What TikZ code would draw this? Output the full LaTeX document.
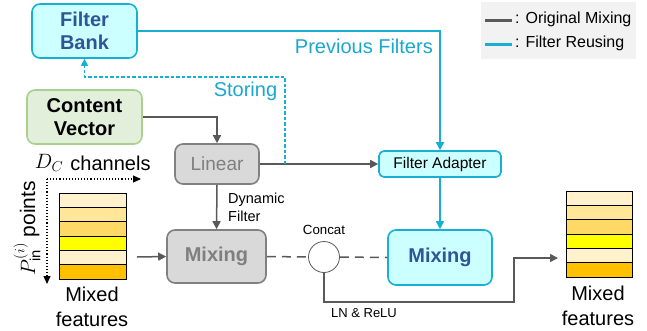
\documentclass[tikz,border=0pt]{standalone}
\usepackage{fontspec}
\setmainfont{Liberation Sans}
\usetikzlibrary{arrows.meta}
\definecolor{cy}{HTML}{17B0D3}
\definecolor{cytext}{HTML}{1AA7CC}
\definecolor{cyfill}{HTML}{CCFFFF}
\definecolor{dblue}{HTML}{2F5597}
\definecolor{gline}{HTML}{595959}
\definecolor{gfill}{HTML}{D9D9D9}
\definecolor{gbord}{HTML}{808080}
\definecolor{gtext}{HTML}{7F7F7F}
\definecolor{grfill}{HTML}{E2EFDA}
\definecolor{grbord}{HTML}{A9D18E}
\definecolor{legfill}{HTML}{F2F2F2}
\definecolor{sA}{HTML}{FFF2CC}
\definecolor{sB}{HTML}{FFE699}
\definecolor{sC}{HTML}{FFD966}
\definecolor{sD}{HTML}{FFFF00}
\definecolor{sF}{HTML}{FFC000}
\tikzset{
  big/.style={font=\fontsize{20}{23}\selectfont},
  cybox/.style={draw=cy, fill=cyfill, line width=1.6pt, rounded corners=8pt, inner sep=0pt, align=center},
  gbox/.style={draw=gbord, fill=gfill, line width=1.6pt, rounded corners=8pt, inner sep=0pt, align=center},
  grbox/.style={draw=grbord, fill=grfill, line width=1.6pt, rounded corners=8pt, inner sep=0pt, align=center},
  garrow/.style={draw=gline, line width=1.5pt, -{Triangle[length=8pt,width=8pt]}},
  carrow/.style={draw=cy, line width=1.6pt, -{Triangle[length=8pt,width=8pt]}},
  gdash/.style={draw=gline, line width=1.5pt, dash pattern=on 9pt off 6pt},
  cdash/.style={draw=cy, line width=1.2pt, dash pattern=on 3.5pt off 2pt, -{Triangle[length=7pt,width=7pt]}},
  axis/.style={draw=black, line width=1.1pt, dotted, -{Triangle[length=8pt,width=7pt]}},
  cell/.style={draw=black, line width=0.8pt},
}
\begin{document}
\begin{tikzpicture}[x=1pt,y=-1pt]
\useasboundingbox (0,0) rectangle (647,330);

% legend
\node[fill=legfill, minimum width=155pt, minimum height=57pt, inner sep=0pt] (legend) at (558.5,30.5) {};
\coordinate (lg1a) at (485,20); \coordinate (lg1b) at (512,20);
\coordinate (lg2a) at (485,44); \coordinate (lg2b) at (512,44);
\draw[gline, line width=3pt] (lg1a) -- (lg1b);
\draw[cy, line width=3pt] (lg2a) -- (lg2b);
\node[anchor=west, font=\fontsize{16}{18}\selectfont, inner sep=0pt] (lgt1) at (515,19) {: Original Mixing};
\node[anchor=west, font=\fontsize{16}{18}\selectfont, inner sep=0pt] (lgt2) at (515,43) {: Filter Reusing};

% boxes
\node[cybox, text=dblue, minimum width=105pt, minimum height=54pt, font=\fontsize{20}{23}\selectfont\bfseries] (fb) at (84.5,31) {Filter\\Bank};
\node[grbox, minimum width=115pt, minimum height=54pt, font=\fontsize{20}{23}\selectfont\bfseries] (cv) at (84.5,117) {Content\\Vector};
\node[gbox, text=gtext, minimum width=84pt, minimum height=40pt, font=\fontsize{19}{22}\selectfont] (lin) at (217,164) {Linear};
\node[gbox, text=gtext, minimum width=99pt, minimum height=53pt, font=\fontsize{20}{23}\selectfont\bfseries] (mixg) at (216.5,256.5) {Mixing};
\node[cybox, text=dblue, minimum width=104pt, minimum height=55pt, font=\fontsize{20}{23}\selectfont\bfseries] (mixc) at (440,257.5) {Mixing};
\node[cybox, rounded corners=5pt, minimum width=122pt, minimum height=26pt, font=\fontsize{15.5}{18}\selectfont] (ad) at (440,164) {Filter Adapter};
\node[circle, draw=gline, line width=0.8pt, fill=white, minimum size=31pt, inner sep=0pt] (cc) at (324,257) {};

% stacks
\foreach \c [count=\i from 0] in {sA,sB,sC,sD,sA,sF} {
  \draw[cell, fill=\c] (59,193+\i*14.33) rectangle (126,193+\i*14.33+14.33);
  \draw[cell, fill=\c] (566,191+\i*14.33) rectangle (632,191+\i*14.33+14.33);
}
\coordinate (stL) at (137,257);
\coordinate (stR) at (558,258);

% labels
\node[cytext, big, inner sep=0pt] (lstor) at (245.5,91) {Storing};
\node[cytext, big, inner sep=0pt, anchor=east] (lprev) at (433,46) {Previous Filters};
\node[anchor=west, align=left, inner sep=0pt, font=\fontsize{14.5}{18}\selectfont] (ldyn) at (228,207) {Dynamic\\Filter};
\node[inner sep=0pt, font=\fontsize{13.3}{15}\selectfont] (lcc) at (324,230) {Concat};
\node[inner sep=0pt, font=\fontsize{13}{15}\selectfont] (lln) at (364,313) {LN \& ReLU};
\node[inner sep=0pt, align=center, font=\fontsize{20}{25}\selectfont] (lmfL) at (92,307) {Mixed\\features};
\node[inner sep=0pt, align=center, font=\fontsize{20}{25}\selectfont] (lmfR) at (598,306) {Mixed\\features};
\node[inner sep=0pt, font=\fontsize{20}{23}\selectfont] (lch) at (110.5,163) {channels};
\node[inner sep=0pt, font=\fontsize{21}{23}\selectfont] (ldc) at (49,163) {$D_C$};
\node[inner sep=0pt, rotate=90, font=\fontsize{21}{23}\selectfont] (lpts) at (27,228) {$P_{\mathrm{in}}^{(i)}$ points};

% axes
\coordinate (ax0) at (47,179);
\coordinate (axx) at (141,179);
\coordinate (axy) at (47,284);
\draw[axis] (ax0) -- (axx);
\draw[axis] (ax0) -- (axy);

% connectors
\draw[garrow] (cv.east) -| (lin.north);
\draw[garrow] (lin.east) -- (ad.west);
\draw[garrow] (lin.south) -- (mixg.north);
\coordinate (stor) at (285,164);
\draw[cdash] (stor) -- (285,77) -| (fb.south);
\draw[carrow] (fb.east) -| (ad.north);
\draw[carrow] (ad.south) -- (mixc.north);
\draw[garrow] (stL) -- (mixg.west);
\draw[gdash] (mixg.east) -- (cc.west);
\draw[gdash] (cc.east) -- (mixc.west);
\draw[garrow] (cc.south) |- (514,302) |- (stR);
\end{tikzpicture}
\end{document}
